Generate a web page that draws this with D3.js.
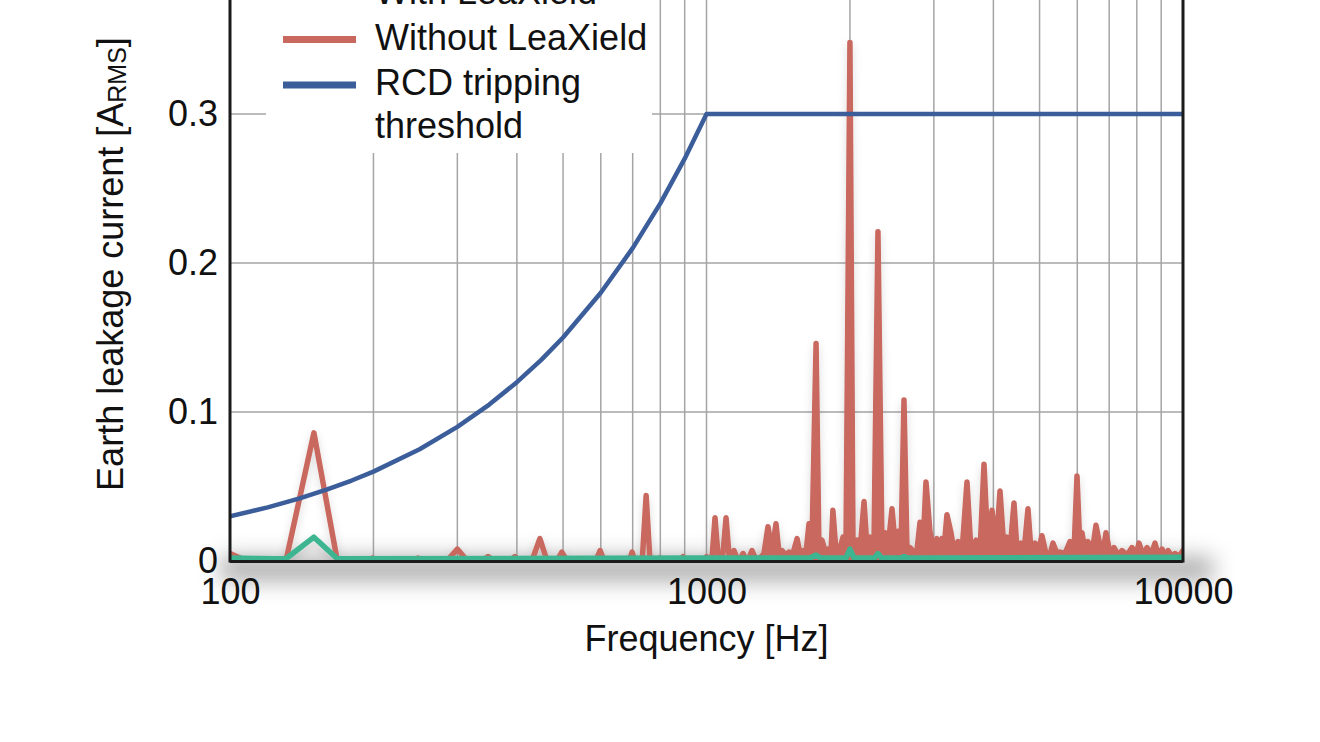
<!DOCTYPE html>
<html>
<head>
<meta charset="utf-8">
<script src="https://cdn.jsdelivr.net/npm/d3@7"></script>
<style>
    body { margin: 0; background: #fff; }
    svg { display: block; font-family: "Liberation Sans", Arial, Helvetica, sans-serif; }
</style>
</head>
<body>
<svg id="chart" width="1320" height="742"></svg>
<script>
// values: [frequency Hz, current A]
const withData = [
    [100, 0.002], [125, 0.0015], [131, 0.0015], [150, 0.016], [168, 0.0015], [1000, 0.002],
    [1650, 0.002], [1698, 0.004], [1740, 0.002], [1962, 0.002], [2000, 0.008], [2040, 0.002],
    [2250, 0.002], [2290, 0.005], [2330, 0.002], [2560, 0.002], [2600, 0.003], [2640, 0.002],
    [10000, 0.0025]
];

const withoutData = [
    [100, 0.005], [105, 0.002], [110, 0], [131, 0], [150, 0.086], [168, 0], [190, 0], [199, 0.002],
    [208, 0], [240, 0], [248, 0.002], [256, 0], [285, 0], [300, 0.008], [315, 0], [338, 0],
    [348, 0.003], [358, 0], [386, 0], [396, 0.003], [406, 0], [430, 0], [447, 0.015], [463, 0],
    [485, 0], [497, 0.006], [510, 0], [585, 0], [598, 0.007], [610, 0], [636, 0], [643, 0.001],
    [650, 0], [688, 0], [698, 0.006], [708, 0], [733, 0], [747, 0.044], [761, 0], [790, 0],
    [799, 0.002], [808, 0], [880, 0], [893, 0.003], [906, 0], [985, 0], [1000, 0.003],
    [1017, 0], [1027, 0.002], [1042, 0.029], [1057, 0.004], [1067, 0.002], [1083, 0.005],
    [1099, 0.029], [1115, 0.004], [1126, 0.002], [1142, 0.007], [1159, 0.002], [1176, 0.001],
    [1193, 0.005], [1210, 0.001], [1228, 0.002], [1246, 0.007], [1270, 0.001], [1295, 0.002],
    [1320, 0.005], [1346, 0.023], [1372, 0.006], [1399, 0.025], [1420, 0.005], [1440, 0.007],
    [1468, 0.004], [1490, 0.006], [1519, 0.005], [1549, 0.015], [1571, 0.005], [1594, 0.007],
    [1618, 0.006], [1641, 0.025], [1665, 0.012], [1698, 0.146], [1722, 0.008], [1747, 0.014],
    [1773, 0.007], [1798, 0.008], [1825, 0.006], [1842, 0.034], [1869, 0.007], [1897, 0.006],
    [1934, 0.016], [1962, 0.008], [2000, 0.348], [2030, 0.008], [2069, 0.014], [2100, 0.007],
    [2141, 0.040], [2172, 0.009], [2203, 0.016], [2246, 0.009], [2290, 0.221], [2335, 0.010],
    [2369, 0.019], [2404, 0.009], [2451, 0.035], [2487, 0.012], [2523, 0.020], [2560, 0.009],
    [2597, 0.108], [2635, 0.007], [2673, 0.009], [2725, 0.006], [2765, 0.007], [2806, 0.026],
    [2847, 0.010], [2888, 0.053], [2944, 0.020], [3001, 0.007], [3045, 0.015], [3090, 0.007],
    [3120, 0.015], [3149, 0.007], [3196, 0.031], [3259, 0.019], [3306, 0.007], [3371, 0.013],
    [3437, 0.006], [3521, 0.053], [3590, 0.007], [3678, 0.014], [3750, 0.007], [3823, 0.065],
    [3897, 0.008], [3974, 0.034], [4051, 0.007], [4130, 0.047], [4210, 0.008], [4272, 0.016],
    [4335, 0.007], [4419, 0.039], [4484, 0.007], [4571, 0.012], [4638, 0.006], [4728, 0.035],
    [4797, 0.007], [4891, 0.012], [4962, 0.005], [5058, 0.017], [5157, 0.005], [5258, 0.004],
    [5335, 0.012], [5439, 0.005], [5519, 0.006], [5654, 0.005], [5792, 0.013], [5905, 0.006],
    [5992, 0.057], [6079, 0.008], [6138, 0.019], [6228, 0.007], [6319, 0.013], [6442, 0.005],
    [6568, 0.024], [6696, 0.010], [6794, 0.006], [6893, 0.019], [7028, 0.005], [7165, 0.009],
    [7305, 0.004], [7447, 0.007], [7630, 0.004], [7816, 0.009], [7968, 0.004], [8085, 0.012],
    [8243, 0.004], [8404, 0.009], [8568, 0.004], [8735, 0.012], [8863, 0.004], [9035, 0.008],
    [9167, 0.003], [9302, 0.007], [9481, 0.003], [9620, 0.005], [9808, 0.003], [10000, 0.007]
];

const rcdData = [
    [100, 0.03], [120, 0.036], [140, 0.042], [160, 0.048], [180, 0.054], [200, 0.06],
    [250, 0.075], [300, 0.09], [350, 0.105], [400, 0.12], [450, 0.135], [500, 0.15],
    [600, 0.18], [700, 0.21], [800, 0.24], [900, 0.27], [1000, 0.3], [10000, 0.3]
];

const xTicks = [100, 1000, 10000];
const yTicks = [0, 0.1, 0.2, 0.3];
const xGrid = [200, 300, 400, 500, 600, 700, 800, 900, 1000, 2000, 3000, 4000, 5000, 6000, 7000, 8000, 9000];
const yGrid = [0.1, 0.2, 0.3, 0.4];
const legendLabels = [["With LeaXield"], ["Without LeaXield"], ["RCD tripping", "threshold"]];

const colors = { with: "#3eb591", without: "#c9685f", rcd: "#3b5e9b", grid: "#a5a5a5", axis: "#1b1b1b" };
const plot = { left: 230, right: 1183, bottom: 561, top: -35 };
const fontSize = 36;

const svg = d3.select("#chart");
const { xScale, yScale } = getScales();

addDefs();
addGrid();
addShadows();
addSeries();
addAxes();
addLegend();
addLabels();

function getScales() {
    const xScale = d3.scaleLog()
        .domain([100, 10000])
        .range([plot.left, plot.right]);
    const yScale = d3.scaleLinear()
        .domain([0, 0.4])
        .range([plot.bottom, plot.top]);
    return { xScale, yScale };
}

function addDefs() {
    const defs = svg.append("defs");
    defs.append("clipPath").attr("id", "plotClip")
        .append("rect")
        .attr("x", plot.left).attr("y", plot.top - 10)
        .attr("width", plot.right - plot.left)
        .attr("height", plot.bottom - plot.top + 10);

    defs.append("filter").attr("id", "blur")
        .attr("x", "-20%").attr("y", "-300%").attr("width", "140%").attr("height", "700%")
        .append("feGaussianBlur").attr("stdDeviation", 11);

    const f = defs.append("filter").attr("id", "soft")
        .attr("x", "-5%").attr("y", "-5%").attr("width", "110%").attr("height", "120%");
    f.append("feDropShadow")
        .attr("dx", 0).attr("dy", 4).attr("stdDeviation", 4)
        .attr("flood-color", "#000").attr("flood-opacity", 0.15);
}

function addGrid() {
    const g = svg.append("g").attr("class", "grid")
        .attr("stroke", colors.grid).attr("stroke-width", 1.5);
    g.selectAll(".vx").data(xGrid).join("line")
        .attr("x1", d => xScale(d)).attr("x2", d => xScale(d))
        .attr("y1", plot.top - 10).attr("y2", plot.bottom);
    g.selectAll(".hy").data(yGrid).join("line")
        .attr("x1", plot.left).attr("x2", plot.right)
        .attr("y1", d => yScale(d)).attr("y2", d => yScale(d));
}

function addShadows() {
    // soft grey haze around the baseline
    svg.append("rect")
        .attr("x", plot.left - 10).attr("y", plot.bottom - 4)
        .attr("width", plot.right - plot.left + 40).attr("height", 24)
        .attr("fill", "#8a8a8a")
        .attr("opacity", 0.7)
        .attr("filter", "url(#blur)");
}

function addSeries() {
    const line = d3.line()
        .x(d => xScale(d[0]))
        .y(d => yScale(d[1]));
    const area = d3.area()
        .x(d => xScale(d[0]))
        .y0(yScale(0))
        .y1(d => yScale(d[1]));
    const g = svg.append("g").attr("clip-path", "url(#plotClip)");
    const data = g.append("g").attr("filter", "url(#soft)")
        .attr("stroke-linejoin", "round")
        .attr("stroke-linecap", "round");
    data.append("path")
        .attr("d", area(withoutData.filter(d => d[0] >= 1300)))
        .attr("fill", colors.without);
    data.append("path")
        .attr("d", line(withoutData))
        .attr("fill", "none")
        .attr("stroke", colors.without)
        .attr("stroke-width", 5.5);
    data.append("path")
        .attr("d", line(withData))
        .attr("fill", "none")
        .attr("stroke", colors.with)
        .attr("stroke-width", 5.5);
    g.append("path")
        .attr("d", line(rcdData))
        .attr("fill", "none")
        .attr("stroke", colors.rcd)
        .attr("stroke-width", 4.5)
        .attr("stroke-linejoin", "round");
}

function addAxes() {
    const xAxis = d3.axisBottom(xScale)
        .tickValues(xTicks)
        .tickFormat(d3.format("d"))
        .tickSize(0)
        .tickPadding(17);
    const yAxis = d3.axisLeft(yScale)
        .tickValues(yTicks)
        .tickFormat(d => d === 0 ? "0" : d3.format(".1f")(d))
        .tickSize(0)
        .tickPadding(12);

    const gx = svg.append("g")
        .attr("transform", `translate(0,${ plot.bottom })`)
        .call(xAxis);
    const gy = svg.append("g")
        .attr("transform", `translate(${ plot.left },0)`)
        .call(yAxis);
    [gx, gy].forEach(g => {
        g.select(".domain").remove();
        g.attr("font-family", null).attr("font-size", fontSize);
        g.selectAll("text").attr("fill", "#111");
    });

    const frame = svg.append("g").attr("stroke", colors.axis).attr("stroke-width", 3);
    frame.append("line")
        .attr("x1", plot.left).attr("x2", plot.left)
        .attr("y1", plot.top - 10).attr("y2", plot.bottom + 1.5);
    frame.append("line")
        .attr("x1", plot.right).attr("x2", plot.right)
        .attr("y1", plot.top - 10).attr("y2", plot.bottom + 1.5);
    frame.append("line")
        .attr("x1", plot.left).attr("x2", plot.right)
        .attr("y1", plot.bottom + 0.5).attr("y2", plot.bottom + 0.5);
}

function addLegend() {
    const g = svg.append("g").attr("class", "legend");
    g.append("rect")
        .attr("x", 266).attr("y", -60)
        .attr("width", 386).attr("height", 213)
        .attr("fill", "#fff");
    const keys = [colors.with, colors.without, colors.rcd];
    const rows = g.selectAll(".row").data(legendLabels).join("g")
        .attr("transform", (d, i) => `translate(0,${ -6 + i * 45.5 })`);
    rows.append("line")
        .attr("x1", 283).attr("x2", 356)
        .attr("y1", 0).attr("y2", 0)
        .attr("stroke", (d, i) => keys[i])
        .attr("stroke-width", 7);
    rows.append("text")
        .attr("x", 375)
        .attr("y", 10)
        .attr("font-size", fontSize)
        .attr("fill", "#111")
        .selectAll("tspan").data(d => d).join("tspan")
        .attr("x", 375)
        .attr("dy", (d, i) => i === 0 ? 0 : 43)
        .text(d => d);
}

function addLabels() {
    svg.append("text")
        .attr("x", (plot.left + plot.right) / 2)
        .attr("y", 651)
        .attr("text-anchor", "middle")
        .attr("font-size", fontSize)
        .attr("fill", "#111")
        .text("Frequency [Hz]");

    const yl = svg.append("text")
        .attr("transform", "translate(123,264) rotate(-90)")
        .attr("text-anchor", "middle")
        .attr("font-size", fontSize)
        .attr("fill", "#111");
    yl.append("tspan").text("Earth leakage current [A");
    yl.append("tspan").attr("font-size", 25).attr("dy", 3).text("RMS");
    yl.append("tspan").attr("dy", -3).text("]");
}
</script>
</body>
</html>
